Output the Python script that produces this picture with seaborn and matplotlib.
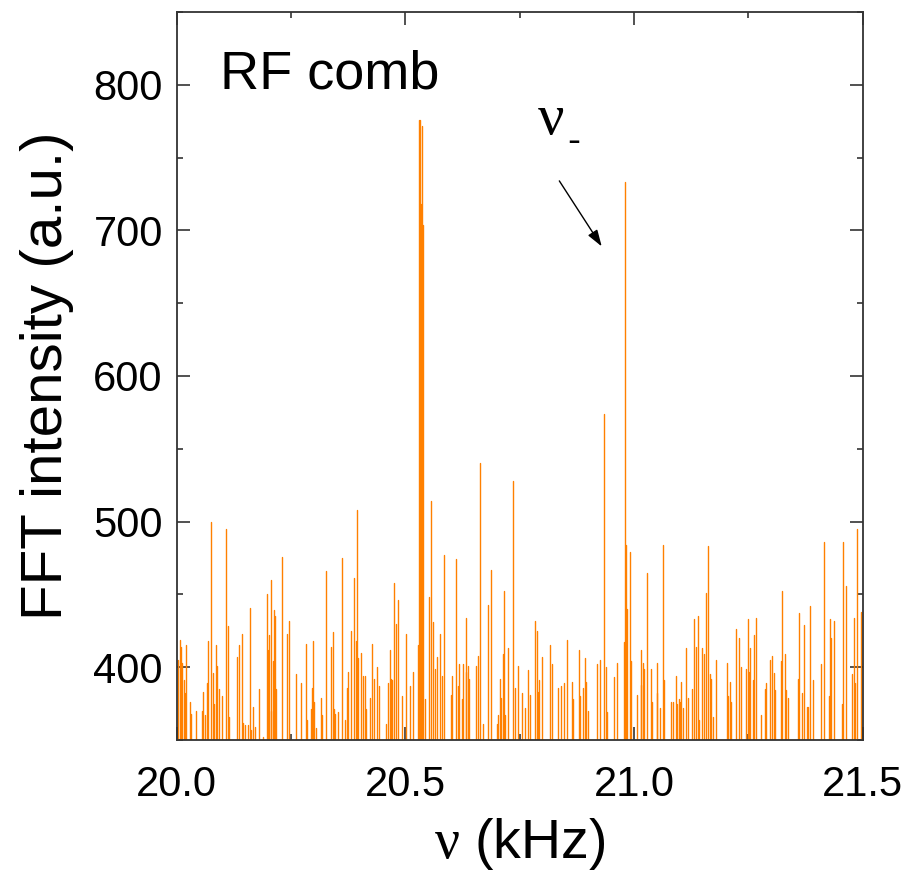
import pandas as pd
import matplotlib
matplotlib.use("Agg")
import matplotlib.pyplot as plt
from matplotlib.ticker import MultipleLocator
import seaborn as sns

# Spike positions (kHz) and heights (a.u.)
freq_khz = [
    20.0035, 20.0066, 20.0094, 20.0123, 20.016, 20.0188, 20.021, 20.0284, 20.031, 20.0415,
    20.0547, 20.0569, 20.0627, 20.067, 20.069, 20.0743, 20.0787, 20.0823, 20.0853, 20.088,
    20.093, 20.0997, 20.107, 20.1115, 20.1137, 20.131, 20.1356, 20.142, 20.146, 20.150,
    20.155, 20.1596, 20.162, 20.166, 20.171, 20.179, 20.188, 20.197, 20.199, 20.201,
    20.2055, 20.207, 20.210, 20.212, 20.2135, 20.2158, 20.218, 20.2296, 20.2405, 20.2463,
    20.260, 20.271, 20.2834, 20.285, 20.293, 20.2966, 20.2988, 20.300, 20.304, 20.316,
    20.318, 20.3258, 20.3367, 20.341, 20.3434, 20.347, 20.352, 20.3608, 20.3687, 20.372,
    20.375, 20.3805, 20.3885, 20.391, 20.3936, 20.397, 20.403, 20.408, 20.4118, 20.414,
    20.423, 20.4264, 20.432, 20.4387, 20.443, 20.457, 20.461, 20.4658, 20.468, 20.470,
    20.4759, 20.4788, 20.4839, 20.4917, 20.5008, 20.511, 20.516, 20.527, 20.5309, 20.5331,
    20.5353, 20.5374, 20.5396, 20.5437, 20.5518, 20.5554, 20.5598, 20.5648, 20.570, 20.5758,
    20.5795, 20.5845, 20.600, 20.6027, 20.6115, 20.6145, 20.618, 20.6246, 20.6267, 20.632,
    20.633, 20.6377, 20.640, 20.6552, 20.6596, 20.6626, 20.669, 20.680, 20.6866, 20.6998,
    20.702, 20.707, 20.710, 20.7142, 20.7157, 20.719, 20.7245, 20.7347, 20.7405, 20.7464,
    20.7558, 20.761, 20.769, 20.772, 20.7842, 20.7886, 20.790, 20.792, 20.7995, 20.8157,
    20.8214, 20.8338, 20.8404, 20.8476, 20.8542, 20.8638, 20.866, 20.879, 20.881, 20.8891,
    20.8935, 20.895, 20.900, 20.9187, 20.926, 20.9337, 20.9395, 20.941, 20.9563, 20.962,
    20.9775, 20.981, 20.9832, 20.985, 20.9906, 20.994, 21.007, 21.0146, 21.016, 21.0204,
    21.0225, 21.0277, 21.037, 21.0395, 21.0496, 21.051, 21.0565, 21.0628, 21.066, 21.081,
    21.085, 21.0912, 21.094, 21.098, 21.100, 21.1035, 21.108, 21.1131, 21.1175, 21.126,
    21.132, 21.135, 21.1393, 21.142, 21.148, 21.153, 21.1568, 21.1618, 21.1655, 21.1685,
    21.172, 21.1793, 21.2027, 21.206, 21.2096, 21.212, 21.2231, 21.229, 21.234, 21.2449,
    21.2486, 21.2513, 21.2544, 21.2605, 21.2624, 21.2668, 21.2775, 21.2864, 21.288, 21.298,
    21.3018, 21.307, 21.309, 21.3222, 21.3244, 21.3302, 21.332, 21.336, 21.3578, 21.3609,
    21.3664, 21.371, 21.3773, 21.381, 21.3856, 21.3921, 21.4083, 21.4162, 21.4258, 21.4293,
    21.4315, 21.4367, 21.454, 21.4563, 21.4636, 21.4774, 21.481, 21.484, 21.4876, 21.497,
]
intensity = [
    405, 419, 414, 403, 391, 382, 415, 376, 368, 370,
    370, 383, 367, 389, 418, 500, 396, 375, 415, 401,
    385, 380, 495, 428, 366, 407, 415, 423, 362, 360,
    360, 441, 357, 373, 359, 385, 352, 450, 412, 422,
    460, 370, 404, 401, 439, 435, 385, 476, 423, 432,
    395, 389, 416, 364, 371, 386, 418, 376, 358, 379,
    367, 466, 414, 424, 371, 368, 369, 475, 364, 386,
    397, 425, 461, 418, 508, 406, 410, 394, 394, 371,
    379, 416, 392, 400, 387, 361, 389, 412, 392, 391,
    458, 430, 446, 380, 423, 387, 397, 415, 776, 776,
    718, 772, 704, 378, 448, 514, 431, 399, 407, 423,
    394, 477, 381, 394, 474, 387, 402, 378, 402, 434,
    397, 401, 392, 401, 408, 540, 361, 443, 467, 361,
    367, 392, 379, 409, 452, 367, 413, 528, 386, 401,
    382, 372, 398, 381, 432, 425, 383, 391, 407, 415,
    402, 386, 387, 389, 419, 390, 378, 412, 380, 386,
    406, 390, 370, 402, 405, 574, 400, 369, 393, 403,
    417, 733, 484, 440, 479, 404, 381, 412, 388, 403,
    399, 465, 399, 376, 403, 382, 372, 484, 391, 376,
    376, 394, 375, 378, 376, 390, 372, 413, 379, 385,
    433, 414, 435, 364, 413, 409, 451, 483, 395, 392,
    366, 405, 403, 380, 390, 376, 426, 420, 400, 399,
    433, 397, 413, 391, 422, 434, 367, 385, 389, 405,
    408, 396, 384, 404, 452, 409, 384, 379, 392, 437,
    382, 429, 373, 373, 442, 391, 402, 486, 380, 433,
    420, 432, 375, 486, 456, 395, 434, 389, 495, 438,
]

y_floor = 340  # spikes start below the visible axis floor

# long-form table: each spike is a two-point vertical segment
rows = []
for i, (f, v) in enumerate(zip(freq_khz, intensity)):
    rows.append({"peak": i, "freq": f, "value": y_floor})
    rows.append({"peak": i, "freq": f, "value": v})
df = pd.DataFrame(rows)

sns.set_style("ticks")
plt.rcParams["font.family"] = ["Liberation Sans", "DejaVu Sans"]
plt.rcParams["mathtext.fontset"] = "custom"
plt.rcParams["mathtext.rm"] = "Liberation Serif"
plt.rcParams["mathtext.it"] = "Liberation Serif"
for k in ["text.color", "axes.labelcolor", "xtick.labelcolor", "ytick.labelcolor"]:
    plt.rcParams[k] = "black"

fig = plt.figure(figsize=(9.09, 8.82), dpi=100)
ax = fig.add_axes([0.1944, 0.161, 0.7546, 0.8254])

sns.lineplot(data=df, x="freq", y="value", units="peak", estimator=None,
             sort=False, color="#ff8000", lw=1.0, ax=ax, legend=False)

ax.set_xlim(20.0, 21.5)
ax.set_ylim(350, 850)
ax.xaxis.set_minor_locator(MultipleLocator(0.25))
ax.yaxis.set_minor_locator(MultipleLocator(50))
ax.set_yticks([400, 500, 600, 700, 800])
ax.set_xticks([20.0, 20.5, 21.0, 21.5])
ax.set_xticklabels(["20.0", "20.5", "21.0", "21.5"])

ax.tick_params(which="both", direction="in", top=True, right=True,
               color="#333333", width=1.2)
ax.tick_params(which="major", length=9.5, labelsize=30)
ax.tick_params(which="minor", length=4.5)
ax.tick_params(axis="x", which="major", pad=18)
ax.tick_params(axis="y", which="major", pad=10)
for s in ax.spines.values():
    s.set_color("#333333")
    s.set_linewidth(1.3)

ax.set_xlabel(r"$\nu$ (kHz)", fontsize=40, labelpad=8)
ax.set_ylabel("FFT intensity (a.u.)", fontsize=42, labelpad=14)

ax.text(0.063, 0.895, "RF comb", transform=ax.transAxes, fontsize=39,
        va="baseline", ha="left")
ax.text(20.787, 766, r"$\nu$", fontsize=42, va="baseline", ha="left")
ax.text(20.853, 754, "-", fontsize=28, va="baseline", ha="left")
ax.annotate("", xy=(20.9294, 689), xytext=(20.8367, 734),
            arrowprops=dict(arrowstyle="-|>,head_length=1.0,head_width=0.33",
                            lw=1.0, color="black", shrinkA=0, shrinkB=0))

fig.savefig("out.png", dpi=100)
